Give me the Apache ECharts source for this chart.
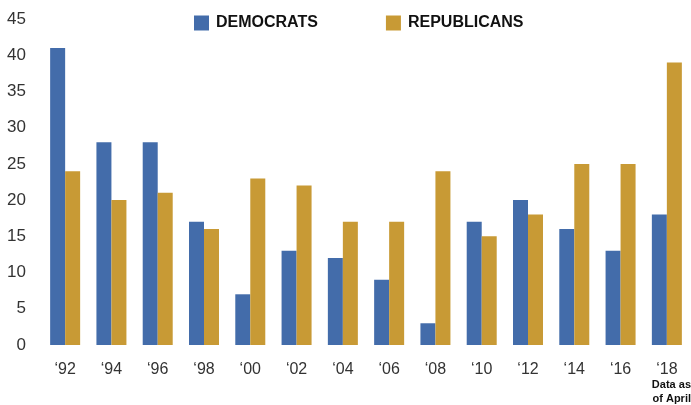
<!DOCTYPE html>
<html>
<head>
<meta charset="utf-8">
<script src="https://cdn.jsdelivr.net/npm/echarts@6/dist/echarts.min.js"></script>
<style>
html,body{margin:0;padding:0;background:#fff;}
#chart{width:691px;height:405px;}
</style>
</head>
<body>
<div id="chart"></div>
<script>
const categories = ['\u201892','\u201894','\u201896','\u201898','\u201800','\u201802','\u201804','\u201806','\u201808','\u201810','\u201812','\u201814','\u201816','\u201818'];
const democrats = [41, 28, 28, 17, 7, 13, 12, 9, 3, 17, 20, 16, 13, 18];
const republicans = [24, 20, 21, 16, 23, 22, 17, 17, 24, 15, 18, 25, 25, 39];
const yTicks = [0, 5, 10, 15, 20, 25, 30, 35, 40, 45];

const chart = echarts.init(document.getElementById('chart'));
chart.setOption({
  animation: false,
  backgroundColor: '#ffffff',
  legend: {
    left: 189, top: 10,
    itemWidth: 15, itemHeight: 15, itemGap: 68,
    icon: 'rect',
    textStyle: { fontFamily: 'Liberation Sans, Arial, sans-serif', fontWeight: 'bold', fontSize: 16, color: '#111', padding: [0,0,0,2] },
    data: ['DEMOCRATS', 'REPUBLICANS']
  },
  grid: { left: 42, right: 1, top: 19, bottom: 60, containLabel: false },
  xAxis: {
    type: 'category',
    data: categories,
    axisLine: { show: false },
    axisTick: { show: false },
    axisLabel: { margin: 17, fontFamily: 'Liberation Sans, Arial, sans-serif', fontSize: 16, color: '#333' }
  },
  yAxis: {
    type: 'value',
    min: yTicks[0], max: yTicks[yTicks.length - 1], interval: 5,
    splitLine: { show: false },
    axisLine: { show: false },
    axisTick: { show: false },
    axisLabel: { margin: 16, fontFamily: 'Liberation Sans, Arial, sans-serif', fontSize: 17, color: '#333' }
  },
  graphic: [
    { type: 'text', right: 0, top: 379, style: { text: 'Data as', font: 'bold 11px Liberation Sans, Arial, sans-serif', fill: '#111' } },
    { type: 'text', right: 0, top: 393, style: { text: 'of April', font: 'bold 11px Liberation Sans, Arial, sans-serif', fill: '#111' } }
  ],
  series: [
    { name: 'DEMOCRATS', type: 'bar', data: democrats, barWidth: 15, barGap: '0%', itemStyle: { color: '#436CAA' } },
    { name: 'REPUBLICANS', type: 'bar', data: republicans, barWidth: 15, barGap: '0%', itemStyle: { color: '#C89A35' } }
  ]
});
</script>
</body>
</html>
